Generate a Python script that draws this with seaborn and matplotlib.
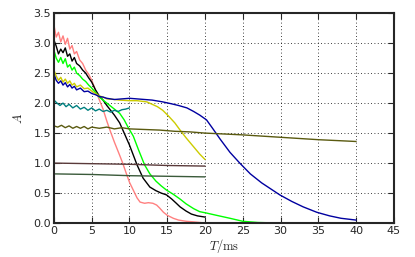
import matplotlib
matplotlib.use("Agg")
import matplotlib.pyplot as plt
import seaborn as sns
import pandas as pd

# ---- data ----
t_pink = [0, 0.3, 0.6, 0.9, 1.2, 1.5, 1.8, 2.1, 2.4, 2.7, 3.0, 3.4, 3.8, 4.2, 4.6, 5.0, 5.4, 5.8, 6.5, 7.0, 7.5, 8.0, 8.7, 9.1, 9.6, 10.0, 10.5, 11.0, 11.4, 12.0, 12.5, 13.1, 13.6, 14.0, 14.5, 15.0, 15.8, 16.5, 17.5, 18.5, 19.3, 20.0]
A_pink = [3.3, 3.1, 3.18, 3.02, 3.12, 2.98, 3.08, 2.9, 2.96, 2.82, 2.86, 2.72, 2.66, 2.55, 2.48, 2.38, 2.25, 2.12, 1.9, 1.7, 1.52, 1.35, 1.13, 1.0, 0.82, 0.68, 0.55, 0.42, 0.35, 0.33, 0.34, 0.33, 0.3, 0.25, 0.18, 0.13, 0.08, 0.05, 0.03, 0.02, 0.01, 0.0]

t_black = [0, 0.3, 0.6, 0.9, 1.2, 1.5, 1.8, 2.1, 2.4, 2.7, 3.0, 3.4, 3.8, 4.2, 4.6, 5.0, 5.5, 6.0, 6.5, 7.0, 7.5, 8.0, 8.7, 9.3, 10.0, 11.0, 11.8, 12.7, 13.5, 14.2, 14.9, 15.6, 16.2, 16.7, 17.5, 18.2, 19.0, 20.0]
A_black = [3.05, 2.95, 2.82, 2.9, 2.84, 2.92, 2.78, 2.82, 2.7, 2.76, 2.66, 2.62, 2.55, 2.5, 2.42, 2.35, 2.22, 2.12, 2.05, 1.96, 1.88, 1.8, 1.67, 1.5, 1.3, 0.97, 0.75, 0.6, 0.54, 0.5, 0.47, 0.4, 0.33, 0.27, 0.2, 0.15, 0.12, 0.1]

t_green = [0, 0.3, 0.6, 0.9, 1.2, 1.5, 1.8, 2.1, 2.4, 2.7, 3.0, 3.4, 3.8, 4.2, 4.6, 5.0, 5.5, 6.0, 6.5, 7.0, 7.5, 8.0, 8.7, 9.3, 9.8, 10.5, 11.2, 12.0, 12.7, 13.5, 14.2, 14.9, 15.8, 16.7, 17.5, 18.5, 19.3, 20.1, 21.5, 23.3, 25.0, 27.0, 30.0]
A_green = [2.88, 2.75, 2.68, 2.76, 2.66, 2.74, 2.6, 2.64, 2.55, 2.6, 2.5, 2.46, 2.4, 2.36, 2.3, 2.25, 2.18, 2.1, 2.05, 2.0, 1.95, 1.9, 1.83, 1.72, 1.6, 1.45, 1.22, 0.97, 0.82, 0.7, 0.62, 0.55, 0.48, 0.4, 0.32, 0.24, 0.19, 0.17, 0.13, 0.08, 0.03, 0.01, 0.0]

t_yellow = [0, 0.3, 0.6, 0.9, 1.2, 1.5, 1.8, 2.1, 2.4, 2.7, 3.0, 3.5, 4.0, 4.5, 5.0, 5.5, 6.0, 6.5, 7.0, 8.0, 8.7, 10.0, 11.0, 12.3, 13.0, 13.7, 14.4, 15.2, 16.0, 16.7, 17.5, 18.5, 19.3, 20.0]
A_yellow = [2.55, 2.45, 2.38, 2.43, 2.35, 2.4, 2.33, 2.37, 2.3, 2.33, 2.27, 2.3, 2.24, 2.25, 2.2, 2.16, 2.12, 2.1, 2.07, 2.06, 2.05, 2.04, 2.04, 2.02, 1.98, 1.94, 1.88, 1.78, 1.67, 1.55, 1.42, 1.27, 1.15, 1.06]

t_blue = [0, 0.3, 0.6, 0.9, 1.2, 1.5, 1.8, 2.1, 2.4, 2.7, 3.0, 3.5, 4.0, 4.5, 5.0, 5.5, 6.0, 6.5, 7.0, 7.5, 8.0, 9.0, 10.0, 11.0, 12.0, 13.0, 14.4, 15.5, 16.5, 17.6, 18.5, 19.3, 20.2, 21.0, 22.0, 23.3, 24.6, 26.0, 27.5, 29.9, 31.5, 33.0, 34.8, 36.5, 38.0, 40.0]
A_blue = [2.48, 2.38, 2.33, 2.37, 2.3, 2.34, 2.27, 2.31, 2.25, 2.28, 2.22, 2.25, 2.19, 2.2, 2.16, 2.14, 2.11, 2.1, 2.08, 2.07, 2.06, 2.07, 2.08, 2.07, 2.06, 2.05, 2.02, 1.99, 1.96, 1.92, 1.86, 1.8, 1.72, 1.58, 1.4, 1.18, 1.0, 0.82, 0.67, 0.47, 0.36, 0.27, 0.18, 0.12, 0.08, 0.05]

t_teal = [0, 0.4, 0.8, 1.2, 1.6, 2.0, 2.5, 3.0, 3.5, 4.0, 4.5, 5.0, 5.5, 6.0, 6.5, 7.0, 7.5, 8.0, 8.5, 9.0, 9.5, 10.0]
A_teal = [2.05, 2.0, 1.96, 2.0, 1.94, 1.98, 1.92, 1.96, 1.9, 1.93, 1.88, 1.92, 1.87, 1.9, 1.86, 1.88, 1.85, 1.88, 1.86, 1.89, 1.9, 1.92]

t_olive = [0, 0.5, 1.0, 1.5, 2.0, 2.5, 3.0, 3.5, 4.0, 4.5, 5.0, 6.0, 7.0, 8.0, 9.0, 10.0, 12.0, 14.0, 16.0, 18.0, 20.0, 25.0, 30.0, 35.0, 40.0]
A_olive = [1.62, 1.6, 1.63, 1.59, 1.62, 1.58, 1.61, 1.58, 1.61, 1.57, 1.6, 1.58, 1.6, 1.57, 1.59, 1.57, 1.56, 1.55, 1.53, 1.52, 1.5, 1.47, 1.43, 1.39, 1.36]

t_brown = [0, 5, 10, 15, 20]
A_brown = [1.0, 0.99, 0.98, 0.96, 0.95]

t_dgreen = [0, 5, 10, 15, 20]
A_dgreen = [0.82, 0.81, 0.79, 0.78, 0.77]

series = [
    ("pink", t_pink, A_pink, "#ff8080"),
    ("black", t_black, A_black, "#000000"),
    ("green", t_green, A_green, "#00ff00"),
    ("yellow", t_yellow, A_yellow, "#cccc00"),
    ("blue", t_blue, A_blue, "#0000a0"),
    ("teal", t_teal, A_teal, "#008080"),
    ("olive", t_olive, A_olive, "#5a5a10"),
    ("brown", t_brown, A_brown, "#5a3a3a"),
    ("dgreen", t_dgreen, A_dgreen, "#3a5a3a"),
]

rows = []
for name, ts, As, _ in series:
    for i, (t, a) in enumerate(zip(ts, As)):
        rows.append({"series": name, "T": t, "A": a, "order": i})
df = pd.DataFrame(rows)
palette = {name: c for name, _, _, c in series}

sns.set_style("ticks")
plt.rcParams["font.family"] = ["DejaVu Sans"]
plt.rcParams["mathtext.fontset"] = "cm"

fig = plt.figure(figsize=(4.15, 2.57), dpi=100)
ax = fig.add_axes([0.130, 0.132, 0.819, 0.817])

sns.lineplot(data=df, x="T", y="A", hue="series", palette=palette,
             units="series", estimator=None, sort=False, lw=1.0,
             legend=False, ax=ax)

ax.set_xlim(0, 45)
ax.set_ylim(0, 3.5)
ax.set_xticks(range(0, 46, 5))
ax.set_yticks([0.0, 0.5, 1.0, 1.5, 2.0, 2.5, 3.0, 3.5])
ax.set_yticklabels(["0.0", "0.5", "1.0", "1.5", "2.0", "2.5", "3.0", "3.5"])
ax.grid(True, color="black", linestyle=(0, (1, 3)), linewidth=0.6)
ax.tick_params(direction="in", length=4, width=0.8, labelsize=8, top=True, right=True, pad=2)
for s in ax.spines.values():
    s.set_linewidth(1.5)
ax.set_xlabel(r"$T/\mathrm{ms}$", fontsize=9, labelpad=1)
ax.set_ylabel(r"$A$", fontsize=9, labelpad=6)

fig.savefig("out.png", dpi=100)
